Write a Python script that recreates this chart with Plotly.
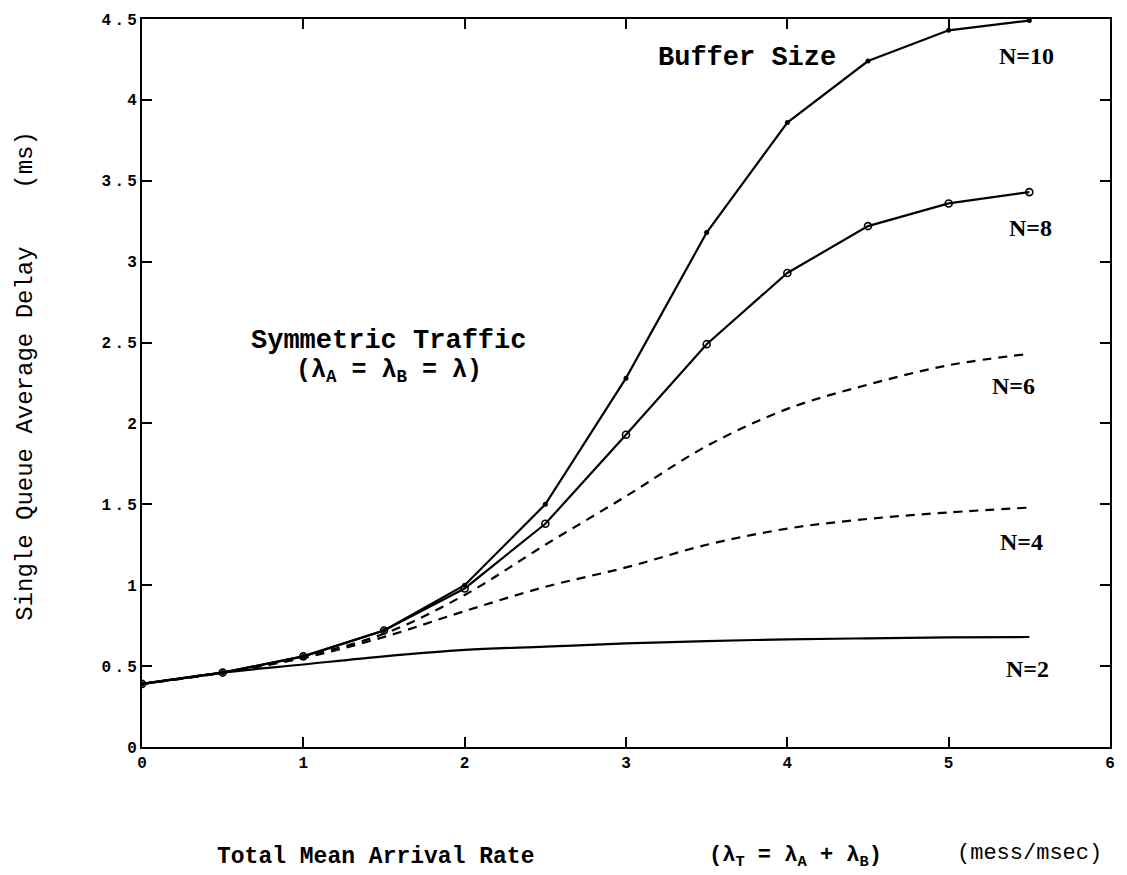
import plotly.graph_objects as go

# ---- data ----
arrival_rate = [0, 0.5, 1.0, 1.5, 2.0, 2.5, 3.0, 3.5, 4.0, 4.5, 5.0, 5.5]
delay_n10 = [0.39, 0.46, 0.56, 0.72, 1.00, 1.50, 2.28, 3.18, 3.86, 4.24, 4.43, 4.49]
delay_n8 = [0.39, 0.46, 0.56, 0.72, 0.98, 1.38, 1.93, 2.49, 2.93, 3.22, 3.36, 3.43]
delay_n6 = [0.39, 0.46, 0.56, 0.70, 0.94, 1.25, 1.55, 1.86, 2.09, 2.24, 2.36, 2.43]
delay_n4 = [0.39, 0.46, 0.55, 0.68, 0.84, 0.99, 1.11, 1.25, 1.35, 1.41, 1.45, 1.48]
delay_n2 = [0.39, 0.46, 0.51, 0.56, 0.60, 0.62, 0.64, 0.655, 0.665, 0.672, 0.678, 0.68]

x_ticks = [0, 1, 2, 3, 4, 5, 6]
y_ticks = [0, 0.5, 1, 1.5, 2, 2.5, 3, 3.5, 4, 4.5]
y_ticktext = ["0", "0\u2009.\u20095", "1", "1\u2009.\u20095", "2", "2\u2009.\u20095",
              "3", "3\u2009.\u20095", "4", "4\u2009.\u20095"]

curve_labels = ["N=10", "N=8", "N=6", "N=4", "N=2"]
label_x = [5.48, 5.51, 5.40, 5.45, 5.49]
label_y = [4.27, 3.21, 2.23, 1.27, 0.48]

MONO = "Liberation Mono, Courier New, monospace"
SERIF = "Liberation Serif, Times New Roman, serif"

fig = go.Figure()

line_style = dict(color="black", width=2.2)
dash_style = dict(color="black", width=2.2, dash="9px,7px")
fig.add_trace(go.Scatter(x=arrival_rate, y=delay_n2, mode="lines", line=line_style,
                         line_shape="spline", showlegend=False))
fig.add_trace(go.Scatter(x=arrival_rate, y=delay_n4, mode="lines", line=dash_style,
                         line_shape="spline", showlegend=False))
fig.add_trace(go.Scatter(x=arrival_rate, y=delay_n6, mode="lines", line=dash_style,
                         line_shape="spline", showlegend=False))
fig.add_trace(go.Scatter(x=arrival_rate, y=delay_n8, mode="lines+markers", line=line_style,
                         marker=dict(symbol="circle-open", size=7, color="black",
                                     line=dict(width=1.6, color="black")),
                         showlegend=False))
fig.add_trace(go.Scatter(x=arrival_rate, y=delay_n10, mode="lines+markers", line=line_style,
                         marker=dict(symbol="circle", size=5, color="black"),
                         showlegend=False))

for t, lx, ly in zip(curve_labels, label_x, label_y):
    fig.add_annotation(x=lx, y=ly, text="<b>" + t + "</b>", showarrow=False,
                       font=dict(family=SERIF, size=24, color="black"))

fig.add_annotation(x=3.75, y=4.26, text="<b>Buffer Size</b>", showarrow=False,
                   font=dict(family=MONO, size=27, color="black"))
fig.add_annotation(x=1.53, y=2.51, text="<b>Symmetric Traffic</b>", showarrow=False,
                   font=dict(family=MONO, size=27, color="black"))
fig.add_annotation(x=1.53, y=2.32,
                   text="<b>(λ<sub>A</sub> = λ<sub>B</sub> = λ)</b>", showarrow=False,
                   font=dict(family=MONO, size=25, color="black"))

# x-axis title pieces
fig.add_annotation(xref="paper", yref="paper", x=(215 - 142) / 970, y=-(858 - 747) / 735,
                   xanchor="left", yanchor="middle", showarrow=False,
                   text="<b>Total Mean Arrival Rate</b>",
                   font=dict(family=MONO, size=23, color="black"))
fig.add_annotation(xref="paper", yref="paper", x=(797 - 142) / 970, y=-(858 - 747) / 735,
                   xanchor="center", yanchor="middle", showarrow=False,
                   text="<b>(λ<sub>T</sub> = λ<sub>A</sub> + λ<sub>B</sub>)</b>",
                   font=dict(family=MONO, size=22, color="black"))
fig.add_annotation(xref="paper", yref="paper", x=(1106 - 142) / 970, y=-(855 - 747) / 735,
                   xanchor="right", yanchor="middle", showarrow=False,
                   text="(mess/msec)",
                   font=dict(family=MONO, size=22, color="black"))

# y-axis title
fig.add_annotation(xref="paper", yref="paper", x=-(142 - 25) / 970, y=(747 - 372) / 735,
                   xanchor="center", yanchor="middle", textangle=-90, showarrow=False,
                   text="Single Queue Average Delay&nbsp;&nbsp;&nbsp;&nbsp;(ms)",
                   font=dict(family=MONO, size=24, color="black"))

axis_common = dict(showline=True, linecolor="black", linewidth=2, mirror="ticks",
                   ticks="inside", ticklen=10, tickwidth=2, tickcolor="black",
                   showgrid=False, zeroline=False,
                   tickfont=dict(family=MONO, size=16, color="black"))

fig.update_xaxes(range=[0, 6], tickvals=x_ticks, ticktext=["<b>%d</b>" % v for v in x_ticks],
                 **axis_common)
fig.update_yaxes(range=[0, 4.5], tickvals=y_ticks,
                 ticktext=["<b>" + t + "</b>" for t in y_ticktext], **axis_common)

fig.update_layout(width=1127, height=875, margin=dict(l=142, r=15, t=12, b=128),
                  plot_bgcolor="white", paper_bgcolor="white", showlegend=False)

fig.write_html("out.html")
